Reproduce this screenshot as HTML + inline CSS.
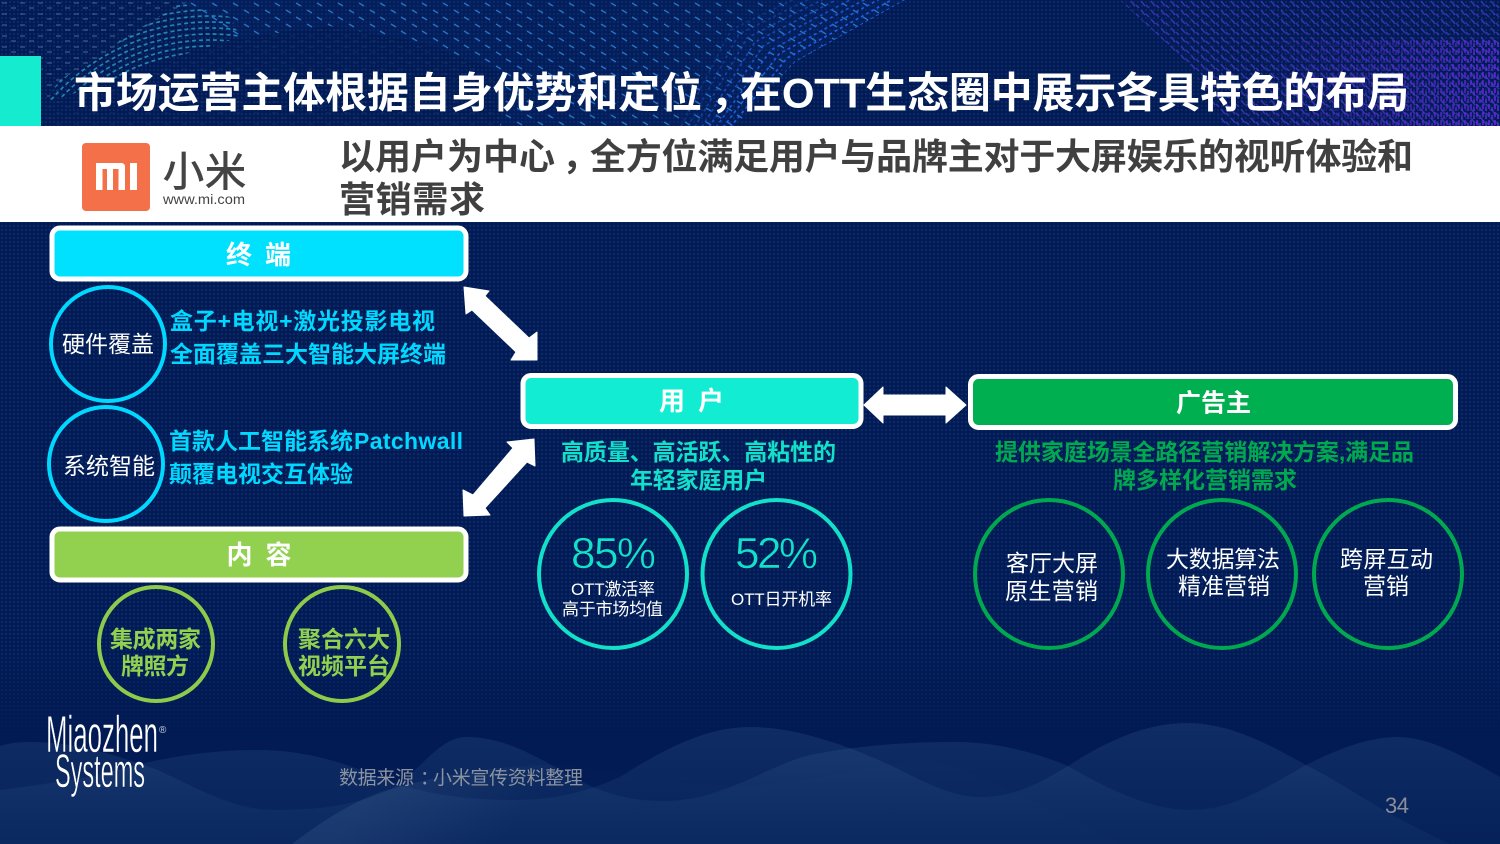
<!DOCTYPE html>
<html lang="zh-CN">
<head>
<meta charset="utf-8">
<title>市场运营主体</title>
<style>
html,body{margin:0;padding:0;background:#021b54;width:1500px;height:844px;overflow:hidden}
svg{display:block}
text{font-family:"Liberation Sans","Noto Sans CJK SC",sans-serif}
.b{font-weight:700}
.w{fill:#fff}
</style>
</head>
<body>
<svg width="1500" height="844" viewBox="0 0 1500 844" xmlns="http://www.w3.org/2000/svg">
<defs>
<pattern id="dots" width="4" height="4" patternUnits="userSpaceOnUse"><rect width="4" height="4" fill="#021b54"/><rect x="1" y="1" width="2" height="2" fill="#0b2b68"/></pattern>
<pattern id="ticksB" width="21" height="14" patternUnits="userSpaceOnUse"><path d="M2 3l5 3M13 10l5 3" stroke="#2f86dc" stroke-width="1.4" fill="none"/></pattern>
<pattern id="ticksG" width="18" height="11" patternUnits="userSpaceOnUse"><path d="M2 3h5M11 8h5" stroke="#5f8db0" stroke-width="1.1" fill="none"/></pattern>
<pattern id="ticksP" width="10" height="9" patternUnits="userSpaceOnUse"><path d="M1 1l4 5M6 5l3 3" stroke="#4f38d8" stroke-width="1.5" fill="none"/></pattern>
<pattern id="ticksV" width="6" height="8" patternUnits="userSpaceOnUse"><path d="M1 0v5M4 3v4" stroke="#6a28e6" stroke-width="1.5" fill="none"/></pattern>
<linearGradient id="fadeDown" x1="0" y1="0" x2="0" y2="1"><stop offset="0" stop-color="#fff"/><stop offset=".86" stop-color="#fff"/><stop offset="1" stop-color="#000"/></linearGradient>
<mask id="mDots"><rect width="1500" height="740" fill="url(#fadeDown)"/></mask>
<linearGradient id="fadeV" x1="1250" y1="60" x2="1500" y2="126" gradientUnits="userSpaceOnUse"><stop offset="0" stop-color="#000"/><stop offset="1" stop-color="#fff"/></linearGradient>
<mask id="mV"><rect x="1200" y="40" width="300" height="86" fill="url(#fadeV)"/></mask>
<linearGradient id="wave" x1="0" y1="720" x2="0" y2="844" gradientUnits="userSpaceOnUse"><stop offset="0" stop-color="#4a7aa8" stop-opacity=".2"/><stop offset="1" stop-color="#2f5f96" stop-opacity=".1"/></linearGradient>
<linearGradient id="wave3" x1="400" y1="760" x2="500" y2="844" gradientUnits="userSpaceOnUse"><stop offset="0" stop-color="#6f97bb" stop-opacity=".14"/><stop offset="1" stop-color="#6f97bb" stop-opacity=".01"/></linearGradient>
<clipPath id="top"><rect width="1500" height="126"/></clipPath>
<clipPath id="tealBand"><polygon points="43,103 100,85 160,62 240,37 230,17 180,3 117,43 60,80"/></clipPath>
<clipPath id="midEdge"><polygon points="735,126 795,62 905,0 700,0 650,126"/></clipPath>
</defs>

<rect width="1500" height="844" fill="#021b54"/>
<rect width="1500" height="740" fill="url(#dots)" mask="url(#mDots)"/>

<!-- bottom waves -->
<path fill="url(#wave)" d="M0 746C10 743 20 742 30 742C80 742 120 757 158 770C200 790 235 810 273 810C320 810 360 805 395 787C420 770 440 737 466 737C520 737 560 775 600 790C630 800 655 803 680 800C730 795 770 765 810 755C860 745 910 742 957 742C990 742 1030 750 1068 766C1110 790 1150 810 1191 810C1235 810 1270 785 1306 765C1340 748 1370 737 1397 737C1430 737 1465 757 1500 777V844H0Z"/>
<path fill="url(#wave)" d="M0 790C40 785 70 780 100 775C150 760 200 750 257 750C310 750 350 765 395 783C430 795 470 800 514 800C560 800 590 790 620 777C670 745 710 727 750 727C800 727 860 750 900 770C930 785 955 797 980 797C1015 797 1040 783 1068 766C1105 742 1145 723 1187 723C1230 723 1270 745 1306 765C1330 777 1350 790 1375 805C1400 820 1420 830 1450 844H0Z"/>
<path fill="url(#wave3)" d="M292 844C330 815 365 795 395 788C440 775 490 768 540 765C600 765 650 785 720 785C800 790 880 760 930 760C970 770 1010 790 1060 815L1120 844Z"/>

<!-- top dotted patterns -->
<g clip-path="url(#top)">
<polygon points="0,0 190,0 110,50 45,100 40,56 0,56" fill="url(#ticksG)" opacity=".7"/>
<polygon points="170,0 905,0 795,62 735,126 500,126 500,72 420,42 330,26 240,38" fill="#0a2c74" opacity=".2"/>
<polygon points="170,0 905,0 795,62 735,126 500,126 500,72 420,42 330,26 240,38" fill="url(#ticksB)" opacity=".8"/>
<polygon points="45,126 45,105 160,66 240,40 330,28 420,44 500,75 500,126" fill="url(#ticksG)" opacity=".12"/>
<polygon points="1120,0 1500,0 1500,126 1225,126 1190,65" fill="url(#ticksP)" opacity=".7"/>
<rect x="1200" y="40" width="300" height="86" fill="url(#ticksV)" mask="url(#mV)"/>
<g clip-path="url(#tealBand)" fill="none" stroke="#2fa6cf" stroke-width="1.7" stroke-dasharray="4 3" opacity=".75">
<circle cx="210" cy="240" r="176"/><circle cx="210" cy="240" r="182"/><circle cx="210" cy="240" r="188"/><circle cx="210" cy="240" r="194"/><circle cx="210" cy="240" r="200"/><circle cx="210" cy="240" r="206"/><circle cx="210" cy="240" r="212"/><circle cx="210" cy="240" r="218"/><circle cx="210" cy="240" r="224"/><circle cx="210" cy="240" r="230"/><circle cx="210" cy="240" r="236"/>
</g>
<g clip-path="url(#midEdge)" fill="none" stroke="#1f5ff0" stroke-width="1.7" stroke-dasharray="3 3">
<path d="M905 0L795 62L735 130"/>
<path d="M895 -2L787 58L728 130" opacity=".95"/>
<path d="M885 -4L779 54L721 130" opacity=".9"/>
<path d="M875 -6L771 50L714 130" opacity=".8"/>
<path d="M865 -8L763 46L707 130" opacity=".7"/>
<path d="M855 -10L755 42L700 130" opacity=".6"/>
<path d="M845 -12L747 38L693 130" opacity=".5"/>
<path d="M835 -14L739 34L686 130" opacity=".4"/>
<path d="M825 -16L731 30L679 130" opacity=".3"/>
</g>
</g>

<!-- header -->
<rect x="0" y="56" width="41" height="70" fill="#14ebcf"/>
<text x="74" y="107.500" class="b w" font-size="42" textLength="628">市场运营主体根据自身优势和定位</text>
<text x="710" y="107.500" class="b w" font-size="42">，</text>
<text x="740" y="107.500" class="b w" font-size="42" textLength="669">在OTT生态圈中展示各具特色的布局</text>
<rect x="0" y="126" width="1500" height="96" fill="#fff"/>

<!-- logo -->
<rect x="82" y="143" width="68" height="68" rx="4" fill="#f47048"/>
<path fill="#fff" d="M96 163H121Q125 163 125 167V190H118.500V169H113V190H107V169H102.500V190H96ZM130 163H137V190H130Z"/>
<text x="163" y="186" font-size="41" fill="#444" stroke="#444" stroke-width=".8" textLength="83">小米</text>
<text x="163" y="204" font-size="13.500" fill="#444" textLength="82" lengthAdjust="spacingAndGlyphs">www.mi.com</text>

<text x="339" y="169" class="b" font-size="36" fill="#404040" textLength="216">以用户为中心</text>
<text x="562" y="169" class="b" font-size="36" fill="#404040">，</text>
<text x="590" y="169" class="b" font-size="36" fill="#404040" textLength="823">全方位满足用户与品牌主对于大屏娱乐的视听体验和</text>
<text x="339" y="212" class="b" font-size="36" fill="#404040" textLength="146">营销需求</text>

<!-- header boxes -->
<rect x="52" y="228" width="414" height="51" rx="8" fill="#00e1ff" stroke="#fff" stroke-width="5"/>
<text x="226" y="264" class="b w" font-size="26" textLength="65">终 端</text>
<rect x="52" y="529" width="414" height="51" rx="8" fill="#92d050" stroke="#fff" stroke-width="5"/>
<text x="226.500" y="564" class="b w" font-size="26" textLength="65">内 容</text>
<rect x="523" y="375.500" width="338" height="51" rx="8" fill="#12ecd3" stroke="#fff" stroke-width="5"/>
<text x="659" y="410" class="b w" font-size="26" textLength="65">用 户</text>
<rect x="970.500" y="376.500" width="485" height="51" rx="8" fill="#00b050" stroke="#fff" stroke-width="5"/>
<text x="1176" y="411.500" class="b w" font-size="25" textLength="75">广告主</text>

<!-- arrows -->
<g fill="#fff" stroke="#fff" stroke-width="1" stroke-linejoin="round">
<polygon points="464,287 489,291 485,296 529,338 537,332 537,360 511,360 516,352 472,310 466,314"/>
<polygon points="534,439 507,442 513,448 473,495 463,490 464,516 490,515 485,508 527,462 535,466"/>
<polygon points="864,405 883,387 883,395 946,395 946,387 966,405 946,423 946,415 883,415 883,423"/>
</g>

<!-- circles -->
<g fill="none" stroke-width="4">
<circle cx="108" cy="344" r="57" stroke="#00d8ff"/>
<circle cx="106" cy="464" r="57" stroke="#00d8ff"/>
<circle cx="156" cy="644" r="57" stroke="#8fcb4a"/>
<circle cx="342" cy="644" r="57" stroke="#8fcb4a"/>
<circle cx="613" cy="574" r="74" stroke="#12e0c8"/>
<circle cx="776.500" cy="574" r="74" stroke="#12e0c8"/>
<circle cx="1049" cy="574" r="74" stroke="#00a94f"/>
<circle cx="1222" cy="574" r="74" stroke="#00a94f"/>
<circle cx="1388" cy="574" r="74" stroke="#00a94f"/>
</g>

<!-- left text -->
<text x="62" y="352" class="w" font-size="23" textLength="92">硬件覆盖</text>
<text x="63" y="474" class="w" font-size="23" textLength="92">系统智能</text>
<g class="b" fill="#00d8ff" font-size="23">
<text x="170" y="329" textLength="265">盒子+电视+激光投影电视</text>
<text x="170" y="362" textLength="276">全面覆盖三大智能大屏终端</text>
<text x="169" y="449" textLength="184">首款人工智能系统</text>
<text x="354" y="449" textLength="109">Patchwall</text>
<text x="169" y="482" textLength="184">颠覆电视交互体验</text>
</g>
<g class="b" fill="#92d050" font-size="23">
<text x="110" y="647" textLength="91">集成两家</text>
<text x="121" y="674" textLength="68">牌照方</text>
<text x="298" y="647" textLength="92">聚合六大</text>
<text x="298" y="674" textLength="92">视频平台</text>
</g>

<!-- middle text -->
<g class="b" fill="#12e0c8" font-size="23">
<text x="561" y="460" textLength="275">高质量、高活跃、高粘性的</text>
<text x="630" y="488" textLength="137">年轻家庭用户</text>
</g>
<text x="571" y="568" font-size="44" fill="#12e0c8" stroke="#021b54" stroke-width=".5" textLength="85">85%</text>
<text x="735" y="568" font-size="44" fill="#12e0c8" stroke="#021b54" stroke-width=".5" textLength="83">52%</text>
<text x="571" y="595" class="w" font-size="17" textLength="84">OTT激活率</text>
<text x="562" y="615" class="w" font-size="17" textLength="101">高于市场均值</text>
<text x="731" y="605" class="w" font-size="17" textLength="101">OTT日开机率</text>

<!-- right text -->
<g class="b" fill="#00a94f" font-size="23">
<text x="995" y="460" textLength="419">提供家庭场景全路径营销解决方案,满足品</text>
<text x="1113" y="488" textLength="184">牌多样化营销需求</text>
</g>
<g class="w" font-size="23">
<text x="1006" y="571" textLength="92">客厅大屏</text>
<text x="1005" y="599" textLength="93">原生营销</text>
<text x="1166" y="567" textLength="114">大数据算法</text>
<text x="1178" y="594" textLength="92">精准营销</text>
<text x="1340" y="567" textLength="93">跨屏互动</text>
<text x="1363" y="594" textLength="46">营销</text>
</g>

<!-- footer -->
<text x="46" y="752" class="w" font-size="52" textLength="112" lengthAdjust="spacingAndGlyphs" stroke="#021b54" stroke-width=".5">Miaozhen</text>
<text x="55" y="787" class="w" font-size="47" textLength="90" lengthAdjust="spacingAndGlyphs" stroke="#021b54" stroke-width=".5">Systems</text>
<text x="159" y="733" font-size="10" fill="#cfd6e2">®</text>
<text x="339" y="784" font-size="19" fill="#8c93a0" textLength="75">数据来源</text>
<text x="420" y="784" font-size="19" fill="#8c93a0">：</text>
<text x="433" y="784" font-size="19" fill="#8c93a0" textLength="150">小米宣传资料整理</text>
<text x="1385" y="813" font-size="22" fill="#8a8f9a" textLength="24">34</text>
</svg>
</body>
</html>
